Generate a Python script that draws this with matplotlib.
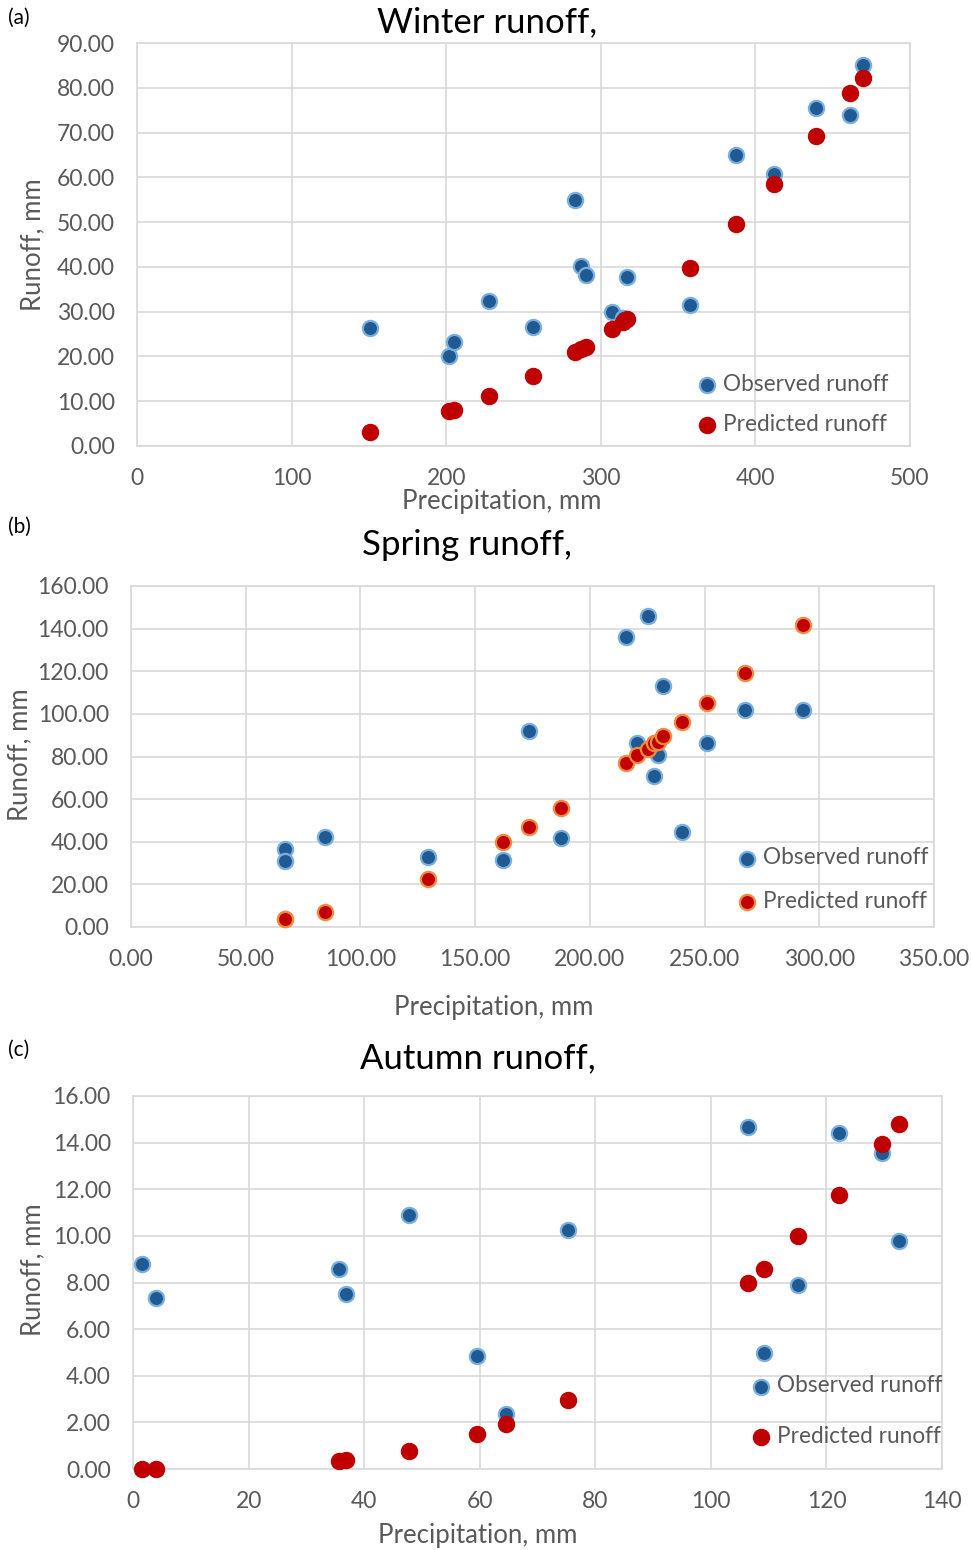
"""Observed vs predicted seasonal runoff against precipitation (three panels)."""

import numpy as np
import matplotlib.pyplot as plt
from matplotlib.ticker import FormatStrFormatter, MultipleLocator

plt.rcParams["font.family"] = ["Lato", "DejaVu Sans"]

# winter
winter_precip = [150.5, 201.5, 205, 228, 256, 283, 287.5, 290.5, 307, 314.5,
                 317, 358, 387.5, 412, 439.5, 461.5, 469.5]
winter_obs = [26.4, 20.2, 23.2, 32.3, 26.6, 54.9, 40.2, 38.2, 29.9, 28.6,
              37.8, 31.4, 65.0, 60.8, 75.5, 73.9, 85.1]
winter_pred = [3.2, 7.8, 8.1, 11.1, 15.6, 20.9, 21.6, 22.2, 26.2, 27.8,
               28.4, 39.8, 49.5, 58.5, 69.2, 78.9, 82.2]

# spring
spring_precip = [67, 67, 84.5, 129.6, 162.2, 173.6, 187.5, 215.8, 220.5, 225.3,
                 228, 229.5, 231.8, 240.1, 250.9, 267.8, 293]
spring_obs = [36.4, 31.1, 42.1, 32.9, 31.4, 91.8, 41.6, 136.3, 86.5, 146.1,
              71.0, 80.8, 113.1, 44.7, 86.4, 101.8, 101.8]
spring_pred = [3.6, 3.9, 7.2, 22.6, 39.9, 46.8, 55.9, 76.8, 80.7, 83.6,
               86.3, 86.8, 89.4, 96.0, 105.1, 119.4, 141.8]

# autumn
autumn_precip = [1.6, 4.05, 35.6, 36.8, 47.7, 59.5, 64.6, 75.3, 106.4, 109.2,
                 115.1, 122.2, 129.7, 132.6]
autumn_obs = [8.78, 7.32, 8.60, 7.50, 10.88, 4.84, 2.38, 10.25, 14.66, 4.98,
              7.89, 14.43, 13.54, 9.79]
autumn_pred = [0.02, 0.02, 0.34, 0.37, 0.77, 1.49, 1.92, 2.98, 7.99, 8.59,
               9.99, 11.77, 13.93, 14.80]

GRID = "#D9D9D9"
TXT = "#595959"
OBS_FACE, OBS_EDGE = "#1F5A93", "#7AAEE0"
PRED_FACE = "#C00000"

W, H = 971, 1550
fig = plt.figure(figsize=(W / 100, H / 100), dpi=100)
fig.patch.set_facecolor("white")


def px_axes(left, top, right, bottom):
    return fig.add_axes([left / W, 1 - bottom / H, (right - left) / W, (bottom - top) / H])


def style(ax, xlim, xstep, ylim, ystep, xfmt):
    ax.set_xlim(*xlim)
    ax.set_ylim(*ylim)
    ax.xaxis.set_major_locator(MultipleLocator(xstep))
    ax.yaxis.set_major_locator(MultipleLocator(ystep))
    ax.xaxis.set_major_formatter(FormatStrFormatter(xfmt))
    ax.yaxis.set_major_formatter(FormatStrFormatter("%.2f"))
    ax.grid(True, color=GRID, linewidth=1.2)
    ax.set_axisbelow(True)
    for sp in ax.spines.values():
        sp.set_color(GRID)
        sp.set_linewidth(1.2)
    ax.tick_params(length=0, pad=16, labelsize=16.5, labelcolor=TXT)


def draw(ax, x, obs, pred, pred_edge, legend_anchor, spacing):
    ax.scatter(x, obs, s=120, c=OBS_FACE, edgecolors=OBS_EDGE, linewidths=1.6,
               zorder=3, clip_on=False, label="Observed runoff")
    ax.scatter(x, pred, s=120, c=PRED_FACE, edgecolors=pred_edge, linewidths=1.6,
               zorder=4, clip_on=False, label="Predicted runoff")
    leg = ax.legend(loc="lower right", bbox_to_anchor=legend_anchor, frameon=False,
                    fontsize=16.3, labelcolor=TXT, handletextpad=0.2,
                    labelspacing=spacing, handlelength=1.0, borderaxespad=0,
                    borderpad=0)
    for h in leg.legend_handles:
        h.set_sizes([120])


# (a) winter
ax1 = px_axes(137, 43, 910, 446)
style(ax1, (0, 500), 100, (0, 90), 10, "%d")
draw(ax1, winter_precip, winter_obs, winter_pred, PRED_FACE, (0.972, 0.028), 0.82)

# (b) spring
ax2 = px_axes(131, 586, 934, 927)
style(ax2, (0, 350), 50, (0, 160), 20, "%.2f")
draw(ax2, spring_precip, spring_obs, spring_pred, "#F08A3C", (0.993, 0.045), 0.98)

# (c) autumn
ax3 = px_axes(133, 1096, 942, 1469)
style(ax3, (0, 140), 20, (0, 16), 2, "%d")
draw(ax3, autumn_precip, autumn_obs, autumn_pred, PRED_FACE, (1.0, 0.058), 1.32)

# titles, axis labels and panel tags
for tag, ty, title, title_x, title_y, xl_x, xl_y, yl_x, yl_y in [
    ("(a)", 18, "Winter runoff,", 487, 22, 502, 502, 33, 245),
    ("(b)", 527, "Spring runoff,", 467, 545, 494, 1007, 20, 755),
    ("(c)", 1050, "Autumn runoff,", 478, 1058, 478, 1535, 33, 1270),
]:
    fig.text(8 / W, 1 - ty / H, tag, fontsize=15, color="black", va="center")
    fig.text(title_x / W, 1 - title_y / H, title, fontsize=25, color="black",
             ha="center", va="center")
    fig.text(xl_x / W, 1 - xl_y / H, "Precipitation, mm", fontsize=18.5, color=TXT,
             ha="center", va="center")
    fig.text(yl_x / W, 1 - yl_y / H, "Runoff, mm", fontsize=18.5, color=TXT,
             ha="center", va="center", rotation=90)

fig.savefig("out.png", dpi=100, facecolor="white")
